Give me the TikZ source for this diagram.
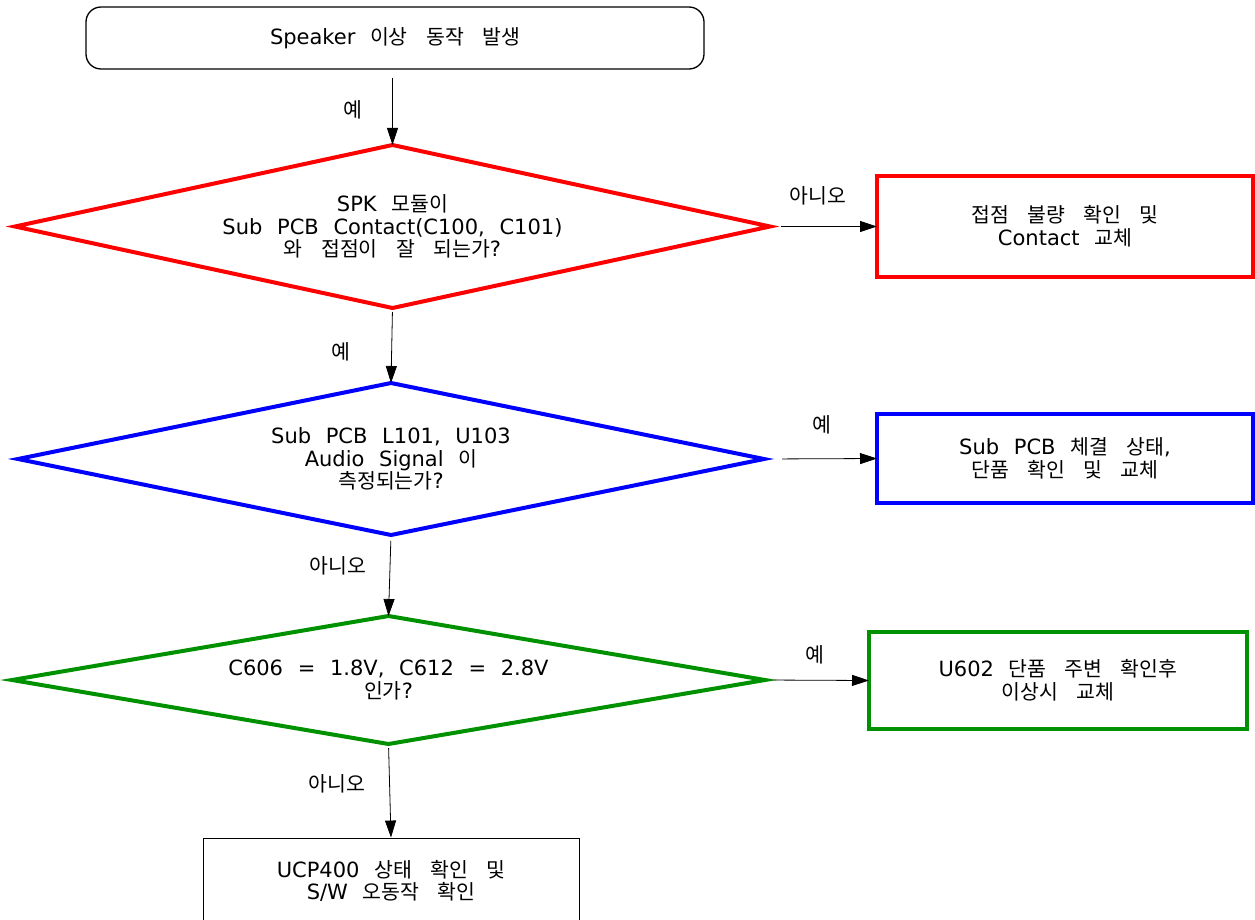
\documentclass[tikz,border=0pt]{standalone}
\usepackage{fontspec}
\setmainfont[WordSpace=2.2]{DejaVu Sans}
\newfontfamily\kr[Scale=0.976,WordSpace=4]{Noto Sans CJK KR}
\newcommand\ko[1]{{\kr #1}}
\usetikzlibrary{shapes.geometric,arrows.meta}
\definecolor{rred}{RGB}{255,0,0}
\definecolor{bblue}{RGB}{0,0,255}
\definecolor{ggreen}{RGB}{0,145,0}
\begin{document}
\begin{tikzpicture}[x=1pt,y=-1pt,
  txt/.style={font=\fontsize{21}{22.5}\selectfont,align=center,inner sep=0pt},
  dia/.style={diamond,draw=#1,line width=4pt,aspect=4.6,inner sep=0pt,outer sep=0pt,txt},
  result/.style={draw=#1,line width=3.5pt,rectangle,inner sep=0pt,outer sep=0pt,txt},
  conn/.style={-{Triangle[length=17pt,width=11pt]},line width=0.8pt,black},
  lbl/.style={font=\fontsize{21}{22}\selectfont\kr,inner sep=0pt}]
\useasboundingbox (0,0) rectangle (1255,920);
\clip (0,0) rectangle (1255,920);
\fill[white] (0,0) rectangle (1255,920);

\node[draw,line width=1.3pt,rounded corners=15pt,minimum width=618pt,minimum height=62pt,txt] (start) at (395,38) {Speaker \ko{이상 동작 발생}};

\node[dia=rred,minimum width=755pt,minimum height=163pt] (d1) at (392.5,226.5) {SPK \ko{모듈이}\\Sub PCB Contact(C100, C101)\\\ko{와 접점이 잘 되는가}?};
\node[result=rred,minimum width=376pt,minimum height=101pt] (r1) at (1065,226.5) {\ko{접점 불량 확인 및}\\Contact \ko{교체}};

\node[dia=bblue,minimum width=746pt,minimum height=152pt] (d2) at (391,459) {Sub PCB L101, U103\\Audio Signal \ko{이}\\\ko{측정되는가}?};
\node[result=bblue,minimum width=376pt,minimum height=89pt] (r2) at (1065,458.5) {Sub PCB \ko{체결 상태},\\\ko{단품 확인 및 교체}};

\node[dia=ggreen,minimum width=753pt,minimum height=128pt] (d3) at (388.5,680) {C606 = 1.8V, C612 = 2.8V\\\ko{인가}?};
\node[result=ggreen,minimum width=378pt,minimum height=97pt] (r3) at (1058,680.5) {U602 \ko{단품 주변 확인후}\\\ko{이상시 교체}};

\node[draw,line width=0.9pt,rectangle,minimum width=376pt,minimum height=86pt,txt] (end) at (391,881) {UCP400 \ko{상태 확인 및}\\S/W \ko{오동작 확인}};

\draw[conn,shorten <=8pt] (d1.north |- start.south) -- (d1.north);
\draw[conn,shorten <=4pt] (d1.south) -- (d2.north);
\draw[conn,shorten <=6pt] (d2.south) -- (d3.north);
\draw[conn,shorten <=4pt] (d3.south) -- (end.north);
\draw[conn,shorten <=11pt] (d1.east) -- (r1.west);
\draw[conn,shorten <=18pt] (d2.east) -- (r2.west);
\draw[conn,shorten <=9pt] (d3.east) -- (r3.west);

\node[lbl] (l1) at (353,110) {예};
\node[lbl] (l2) at (341,352) {예};
\node[lbl] (l3) at (338,566) {아니오};
\node[lbl] (l4) at (337,784) {아니오};
\node[lbl] (l5) at (818,196) {아니오};
\node[lbl] (l6) at (822,425) {예};
\node[lbl] (l7) at (815,655) {예};
\end{tikzpicture}
\end{document}
